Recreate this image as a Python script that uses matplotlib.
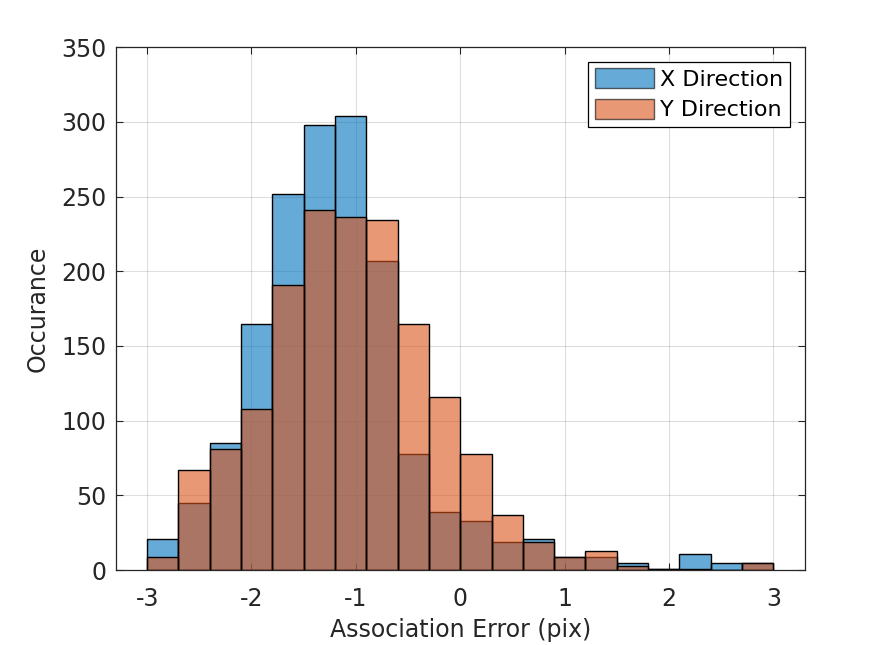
import matplotlib.pyplot as plt
import numpy as np

# histogram bins (width 0.3 from -3 to 3) and counts
edges = np.linspace(-3, 3, 21)
x_counts = [21, 45, 85, 165, 252, 298, 304, 207, 78, 39,
            33, 19, 21, 9, 9, 5, 1, 11, 5, 5]
y_counts = [9, 67, 81, 108, 191, 241, 236, 234, 165, 116,
            78, 37, 19, 9, 13, 3, 1, 1, 0, 5]

blue = (0, 0.447, 0.741)
orange = (0.85, 0.325, 0.098)
txt = '#262626'

plt.rcParams['font.family'] = 'DejaVu Sans'
plt.rcParams['axes.unicode_minus'] = False
fig = plt.figure(figsize=(8.91, 6.45), dpi=100)
ax = fig.add_axes([0.130, 0.116, 0.773, 0.811])

centers = (edges[:-1] + edges[1:]) / 2
w = edges[1] - edges[0]
ax.bar(centers, x_counts, width=w, color=blue, alpha=0.6, edgecolor='none',
       zorder=2, label='X Direction')
ax.bar(centers, x_counts, width=w, fill=False, edgecolor='black', lw=1, zorder=2)
ax.bar(centers, y_counts, width=w, color=orange, alpha=0.6, edgecolor='none',
       zorder=3, label='Y Direction')
ax.bar(centers, y_counts, width=w, fill=False, edgecolor='black', lw=1, zorder=3)

ax.set_xlim(-3.3, 3.3)
ax.set_ylim(0, 350)
ax.set_xticks(range(-3, 4))
ax.set_yticks(range(0, 351, 50))
ax.grid(True, color='#262626', alpha=0.15, lw=0.8, zorder=0)
ax.set_axisbelow(True)
ax.tick_params(direction='in', top=True, right=True, labelsize=17,
               colors=txt, length=5, width=0.8)
ax.tick_params(axis='x', pad=12)
ax.tick_params(axis='y', pad=7)
for s in ax.spines.values():
    s.set_color(txt)
    s.set_linewidth(0.9)

ax.set_xlabel('Association Error (pix)', fontsize=17, color=txt, labelpad=5)
ax.set_ylabel('Occurance', fontsize=17, color=txt, labelpad=8)

leg = ax.legend(loc='upper right', fontsize=16, fancybox=False, framealpha=1,
                edgecolor='black', handlelength=2.65, handleheight=1.0,
                borderaxespad=0.65, handletextpad=0.3, labelspacing=0.4,
                borderpad=0.3)
for h in leg.legend_handles:
    h.set_edgecolor('black')
    h.set_linewidth(1)
leg.get_frame().set_linewidth(0.9)

plt.savefig('out.png', dpi=100)
